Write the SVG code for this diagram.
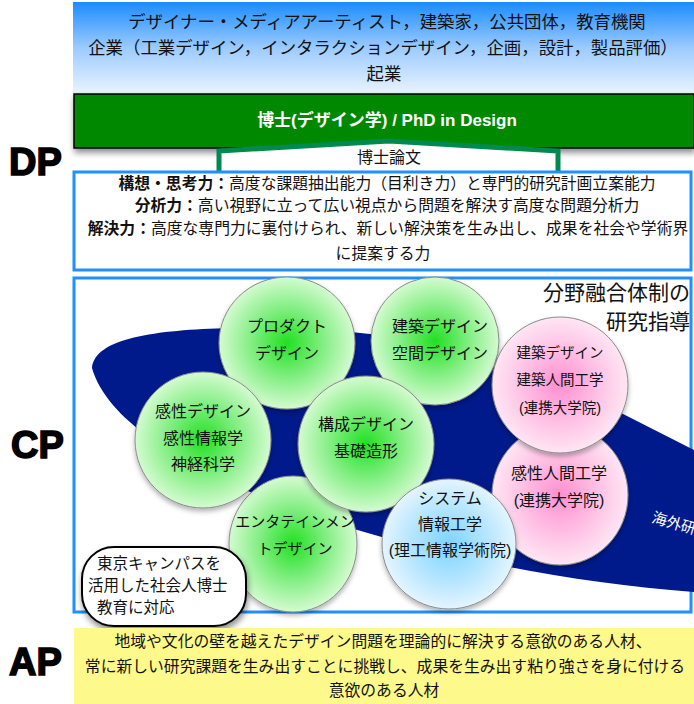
<svg xmlns="http://www.w3.org/2000/svg" width="694" height="704" viewBox="0 0 694 704">
<defs>
<linearGradient id="topg" x1="0" y1="0" x2="0" y2="1">
<stop offset="0" stop-color="#1a8cff"/>
<stop offset="0.5" stop-color="#9ccbff"/>
<stop offset="1" stop-color="#eaf4ff"/>
</linearGradient>
<radialGradient id="gg" cx="0.5" cy="0.5" r="0.5">
<stop offset="0" stop-color="#22e022"/>
<stop offset="0.55" stop-color="#86ef86"/>
<stop offset="1" stop-color="#d4fbd0"/>
</radialGradient>
<radialGradient id="pg" cx="0.5" cy="0.5" r="0.5">
<stop offset="0" stop-color="#ff8fd0"/>
<stop offset="0.6" stop-color="#ffc4e6"/>
<stop offset="1" stop-color="#ffe6f4"/>
</radialGradient>
<radialGradient id="bg" cx="0.5" cy="0.5" r="0.5">
<stop offset="0" stop-color="#7cd4ff"/>
<stop offset="0.6" stop-color="#b8e6ff"/>
<stop offset="1" stop-color="#e4f5ff"/>
</radialGradient>
<filter id="sh" x="-20%" y="-20%" width="140%" height="150%">
<feDropShadow dx="1" dy="4" stdDeviation="3" flood-color="#000" flood-opacity="0.45"/>
</filter>
<filter id="csh" x="-20%" y="-20%" width="140%" height="140%">
<feDropShadow dx="0" dy="3" stdDeviation="2.5" flood-color="#000" flood-opacity="0.3"/>
</filter>
</defs>
<style>
text{font-family:"Liberation Sans","Noto Sans CJK JP",sans-serif;fill:#111;}
.t17{font-size:17.4px;text-anchor:middle;}
.t16{font-size:15.8px;text-anchor:middle;}
.c{font-size:16px;text-anchor:middle;}
.b{font-weight:bold;}
.lab{font-size:38px;font-weight:bold;fill:#000;stroke:#000;stroke-width:1.6;}
.circ{stroke:#8a8a8a;stroke-width:1;filter:url(#csh);}
.frame{fill:#fff;stroke:#1e90ff;stroke-width:3;}
</style>

<g id="labels">
<text class="lab" x="9" y="175">DP</text>
<text class="lab" x="11" y="458">CP</text>
<text class="lab" x="9" y="675">AP</text>
</g>

<g id="careers">
<rect x="73" y="2" width="621" height="92" fill="url(#topg)"/>
<text class="t17" x="387" y="28">デザイナー・メディアアーティスト，建築家，公共団体，教育機関</text>
<text class="t17" x="383" y="54">企業（工業デザイン，インタラクションデザイン，企画，設計，製品評価）</text>
<text class="t17" x="384" y="80">起業</text>
</g>

<g id="degree">
<rect x="74" y="94" width="620" height="54" fill="#008800" stroke="#000" stroke-width="1.5" filter="url(#sh)"/>
<text class="b" x="387" y="126" style="fill:#fff;font-size:17px;text-anchor:middle;">博士(デザイン学) /  PhD in Design</text>
</g>

<g id="thesis">
<path d="M219,180 L219,151 L389,141 L558,151 L558,180 Z" fill="#fff" stroke="#008a50" stroke-width="5" stroke-linejoin="miter"/>
<text x="389" y="163" style="font-size:16px;text-anchor:middle;">博士論文</text>
</g>

<g id="dp">
<rect class="frame" x="74" y="172" width="617" height="98"/>
<text class="t16" x="387" y="188.5"><tspan class="b">構想・思考力：</tspan>高度な課題抽出能力（目利き力）と専門的研究計画立案能力</text>
<text class="t16" x="387" y="210.5"><tspan class="b">分析力：</tspan>高い視野に立って広い視点から問題を解決す高度な問題分析力</text>
<text class="t16" x="388" y="233.5"><tspan class="b">解決力：</tspan>高度な専門力に裏付けられ、新しい解決策を生み出し、成果を社会や学術界</text>
<text class="t16" x="383" y="258.5">に提案する力</text>
</g>

<g id="cp">
<rect class="frame" x="74" y="278" width="617" height="334"/>
<path d="M92,368 C95,338 155,330 230,328 C350,326 480,342 560,382 L694,450 L694,592 C560,582 420,552 320,518 C220,485 110,432 92,368 Z" fill="#001a8c"/>
<text x="651" y="522" transform="rotate(16 651 522)" style="fill:#fff;font-size:15px;">海外研</text>
<text x="690" y="300" style="font-size:21px;text-anchor:end;">分野融合体制の</text>
<text x="690" y="329" style="font-size:21px;text-anchor:end;">研究指導</text>
</g>

<g id="n-product">
<ellipse class="circ" cx="287" cy="343" rx="68" ry="66" fill="url(#gg)"/>
<text class="c" x="287" y="332">プロダクト</text>
<text class="c" x="287" y="359">デザイン</text>
</g>
<g id="n-arch">
<ellipse class="circ" cx="435" cy="341" rx="64" ry="64" fill="url(#gg)"/>
<text class="c" x="440" y="332">建築デザイン</text>
<text class="c" x="440" y="359">空間デザイン</text>
</g>
<g id="n-kansei-human">
<ellipse class="circ" cx="560" cy="495" rx="68" ry="70" fill="url(#pg)"/>
<text class="c" x="559" y="479">感性人間工学</text>
<text class="c" x="559" y="506">(連携大学院)</text>
</g>
<g id="n-arch-human">
<ellipse class="circ" cx="560" cy="385" rx="68" ry="68" fill="url(#pg)"/>
<text class="c" x="560" y="358" style="font-size:14.5px;">建築デザイン</text>
<text class="c" x="560" y="385" style="font-size:14.5px;">建築人間工学</text>
<text class="c" x="560" y="413" style="font-size:14.5px;">(連携大学院)</text>
</g>
<g id="n-entertainment">
<ellipse class="circ" cx="293" cy="544" rx="64" ry="68" fill="url(#gg)"/>
<text class="c" x="295" y="527" style="font-size:15px;">エンタテインメン</text>
<text class="c" x="295" y="554" style="font-size:15px;">トデザイン</text>
</g>
<g id="n-kansei">
<ellipse class="circ" cx="203" cy="440" rx="68" ry="68" fill="url(#gg)"/>
<text class="c" x="203" y="417">感性デザイン</text>
<text class="c" x="203" y="444">感性情報学</text>
<text class="c" x="203" y="470">神経科学</text>
</g>
<g id="n-compose">
<ellipse class="circ" cx="366" cy="444" rx="68" ry="68" fill="url(#gg)"/>
<text class="c" x="366" y="430">構成デザイン</text>
<text class="c" x="366" y="457">基礎造形</text>
</g>
<g id="n-system">
<ellipse class="circ" cx="449" cy="544" rx="67" ry="65" fill="url(#bg)"/>
<text class="c" x="450" y="504">システム</text>
<text class="c" x="450" y="530">情報工学</text>
<text class="c" x="450" y="556">(理工情報学術院)</text>
</g>

<g id="bubble">
<rect x="82" y="547" width="164" height="79" rx="32" ry="32" fill="#fff" stroke="#000" stroke-width="2" filter="url(#sh)"/>
<text x="97" y="569" style="font-size:15.5px;">東京キャンパスを</text>
<text x="88" y="591" style="font-size:15.5px;">活用した社会人博士</text>
<text x="97" y="613" style="font-size:15.5px;">教育に対応</text>
</g>

<g id="ap">
<rect x="74" y="628" width="620" height="76" fill="#fdf98a"/>
<text class="t16" x="383" y="647">地域や文化の壁を越えたデザイン問題を理論的に解決する意欲のある人材、</text>
<text class="t16" x="385" y="671.5">常に新しい研究課題を生み出すことに挑戦し、成果を生み出す粘り強さを身に付ける</text>
<text class="t16" x="384" y="696">意欲のある人材</text>
</g>
</svg>
